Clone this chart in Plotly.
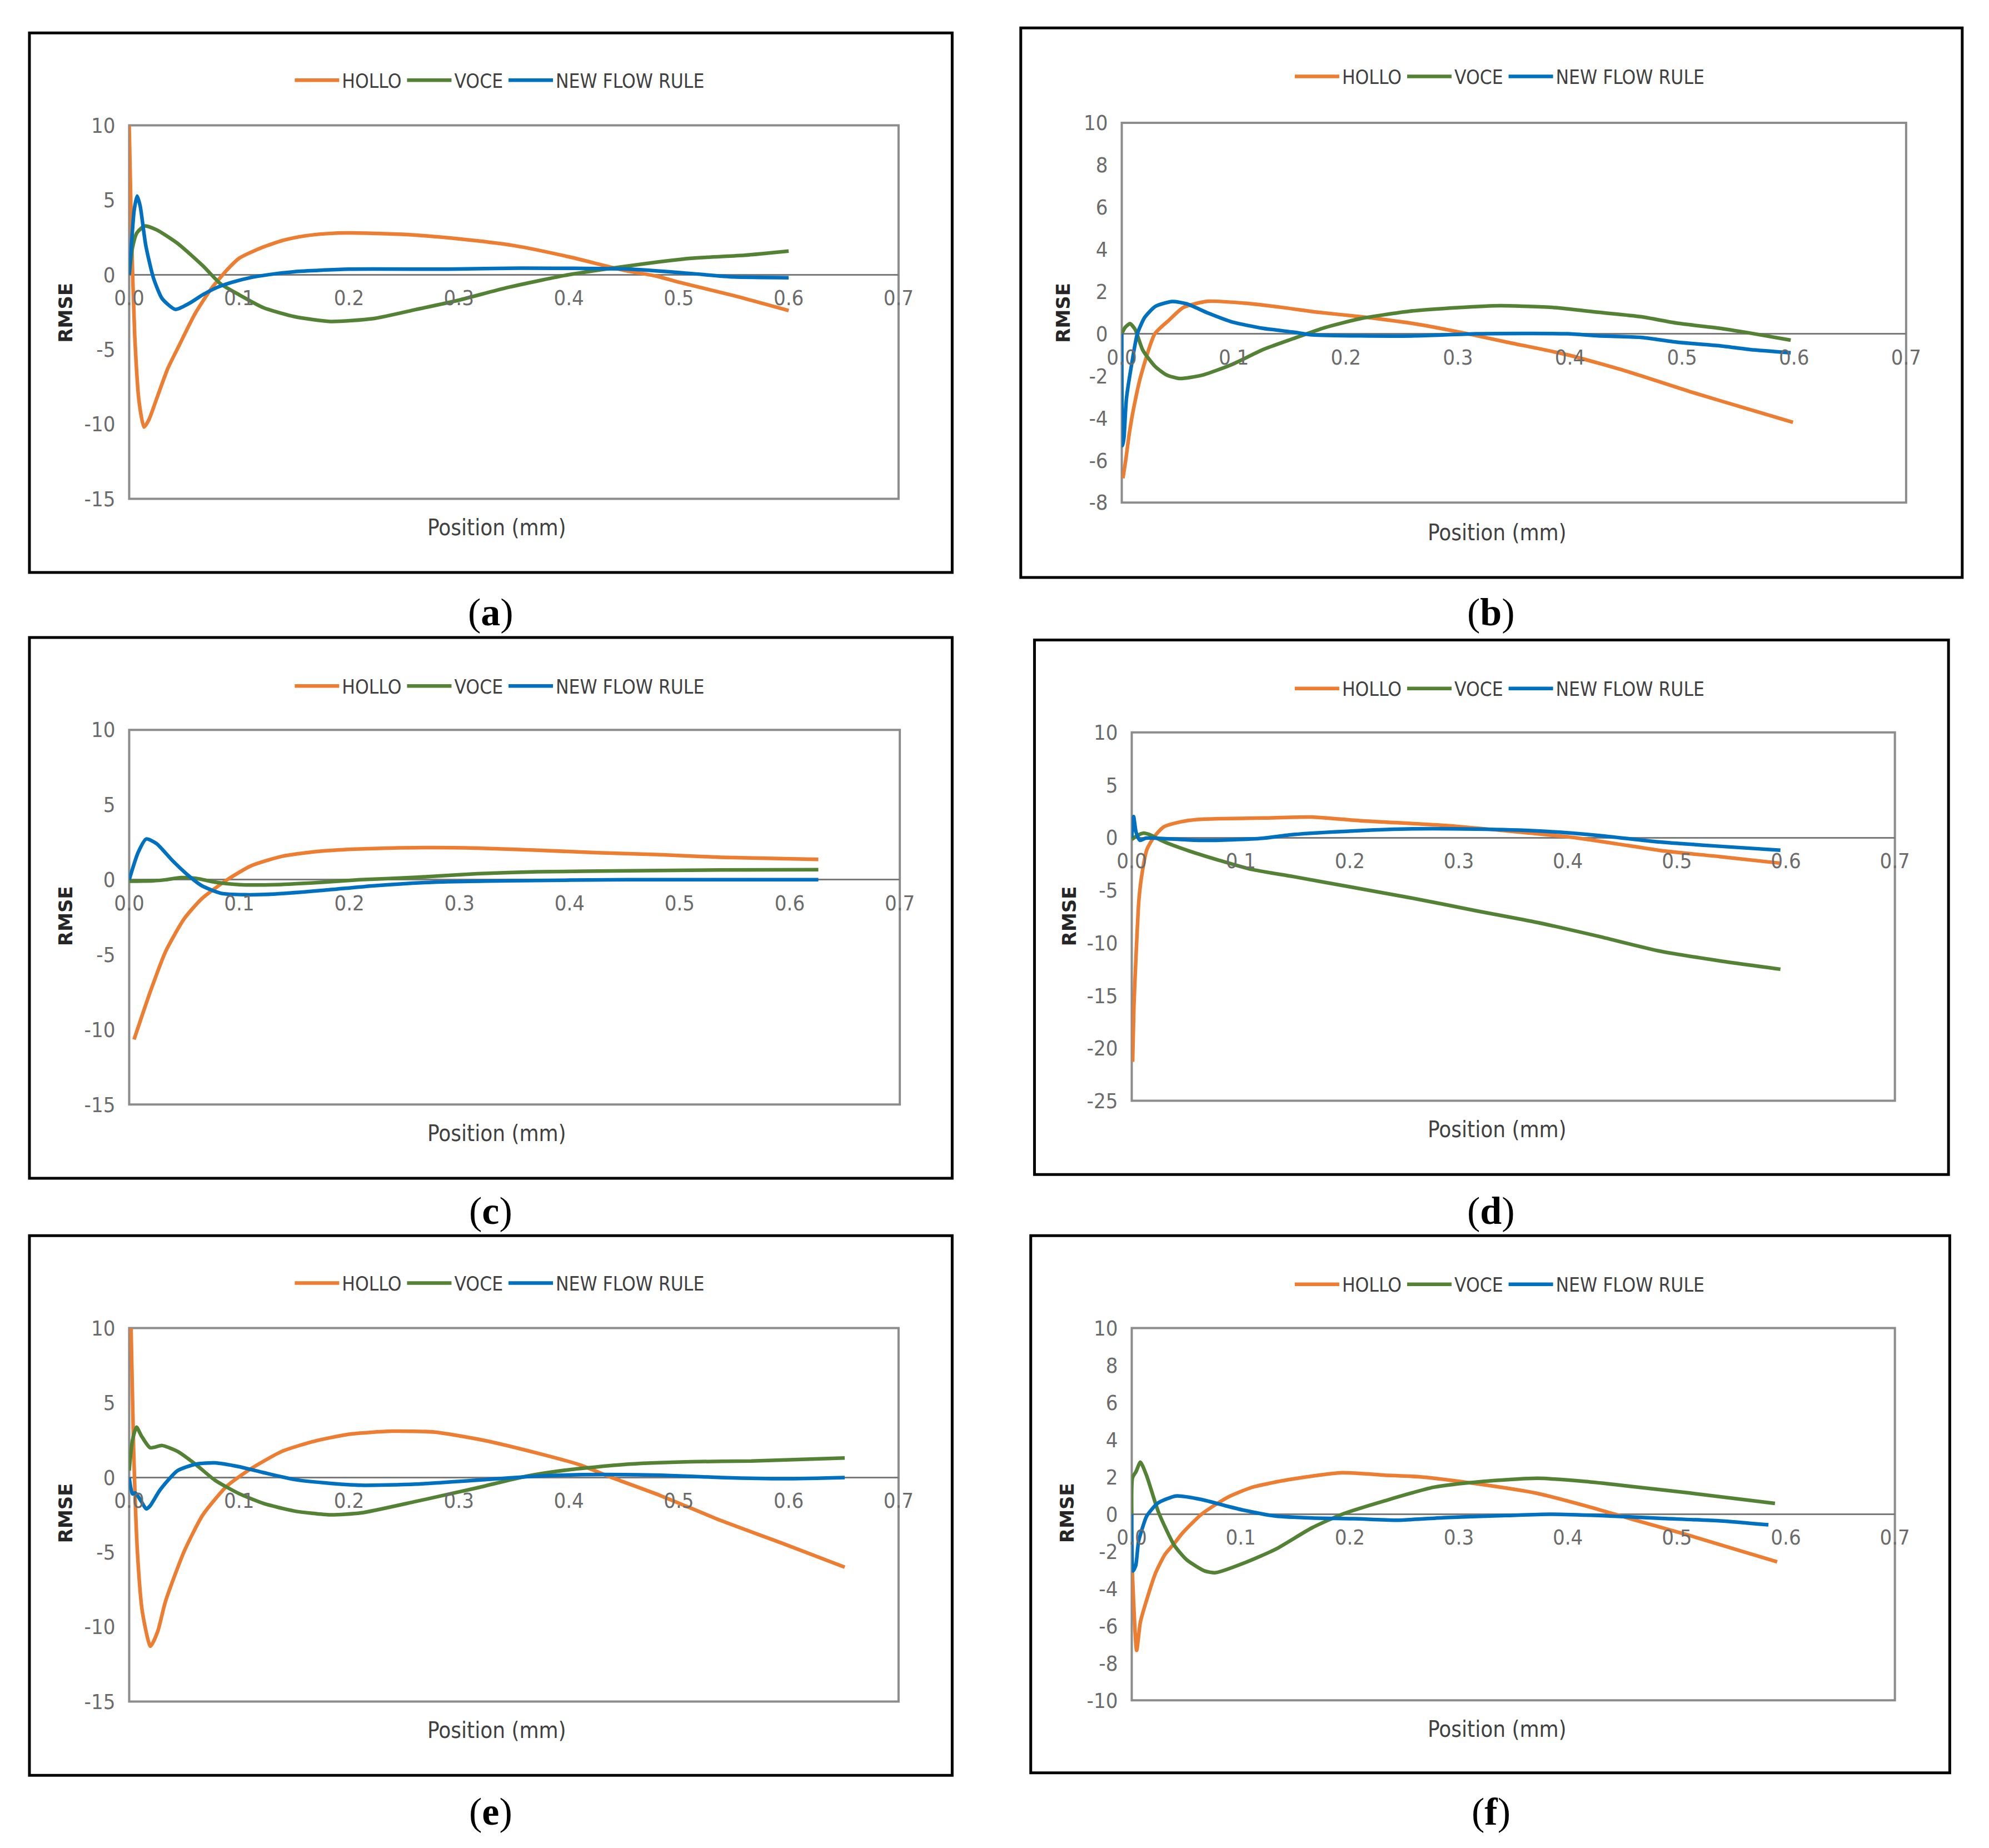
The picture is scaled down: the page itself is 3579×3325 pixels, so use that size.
import plotly.graph_objects as go

# ---------------- data ----------------
SERIES = ["HOLLO", "VOCE", "NEW FLOW RULE"]
COLORS = ["#ED7D31", "#548235", "#0070C0"]
X_TICKS = [0.0, 0.1, 0.2, 0.3, 0.4, 0.5, 0.6, 0.7]
X_TICK_TEXT = ["0.0", "0.1", "0.2", "0.3", "0.4", "0.5", "0.6", "0.7"]
PANEL_LABELS = ["a", "b", "c", "d", "e", "f"]

# (a)
a_x_hollo = [0.0, 0.002, 0.005, 0.009, 0.0135, 0.018, 0.025, 0.035, 0.045, 0.06, 0.075, 0.09, 0.1, 0.12, 0.14, 0.16, 0.18, 0.2, 0.25, 0.3, 0.35, 0.4, 0.45, 0.48, 0.5, 0.55, 0.6]
a_hollo = [10.0, 3.0, -4.0, -8.5, -10.2, -9.7, -8.3, -6.3, -4.8, -2.6, -0.9, 0.4, 1.1, 1.8, 2.3, 2.6, 2.75, 2.8, 2.7, 2.4, 1.95, 1.2, 0.3, -0.1, -0.5, -1.4, -2.4]
a_x_voce = [0.0, 0.003, 0.007, 0.014, 0.025, 0.044, 0.067, 0.083, 0.1, 0.122, 0.15, 0.183, 0.222, 0.261, 0.3, 0.344, 0.4, 0.455, 0.511, 0.56, 0.6]
a_voce = [0.0, 1.8, 2.8, 3.26, 3.0, 2.1, 0.6, -0.6, -1.34, -2.2, -2.8, -3.13, -2.94, -2.33, -1.7, -0.86, 0.0, 0.6, 1.1, 1.3, 1.58]
a_x_nfr = [0.0, 0.002, 0.0045, 0.0072, 0.01, 0.015, 0.022, 0.03, 0.042, 0.055, 0.067, 0.08, 0.094, 0.11, 0.122, 0.15, 0.2, 0.29, 0.355, 0.455, 0.511, 0.55, 0.6]
a_nfr = [0.0, 2.0, 4.3, 5.27, 4.6, 2.0, -0.2, -1.6, -2.32, -1.9, -1.34, -0.85, -0.5, -0.2, -0.05, 0.2, 0.37, 0.37, 0.44, 0.37, 0.08, -0.15, -0.2]
a_yticks = [-15, -10, -5, 0, 5, 10]
a_ytext = ["-15", "-10", "-5", "0", "5", "10"]

# (b)
b_x_hollo = [0.001, 0.0035, 0.0065, 0.01, 0.017, 0.0295, 0.042, 0.055, 0.077, 0.11, 0.143, 0.175, 0.213, 0.262, 0.306, 0.344, 0.398, 0.452, 0.507, 0.561, 0.599]
b_hollo = [-6.85, -6.0, -4.8, -3.7, -2.0, 0.0, 0.64, 1.25, 1.54, 1.45, 1.25, 1.02, 0.81, 0.47, 0.03, -0.4, -1.0, -1.8, -2.74, -3.6, -4.2]
b_x_voce = [0.0, 0.003, 0.0074, 0.012, 0.0188, 0.03, 0.04, 0.0515, 0.072, 0.099, 0.126, 0.153, 0.181, 0.213, 0.257, 0.3, 0.338, 0.387, 0.425, 0.463, 0.496, 0.534, 0.561, 0.597]
b_voce = [0.0, 0.3, 0.48, 0.2, -0.78, -1.56, -1.95, -2.12, -1.96, -1.44, -0.75, -0.23, 0.29, 0.72, 1.07, 1.24, 1.33, 1.24, 1.02, 0.81, 0.5, 0.26, 0.03, -0.3]
b_x_nfr = [0.0, 0.0008, 0.002, 0.0041, 0.009, 0.0139, 0.0205, 0.03, 0.045, 0.058, 0.077, 0.099, 0.126, 0.153, 0.17, 0.213, 0.262, 0.317, 0.398, 0.425, 0.463, 0.496, 0.534, 0.561, 0.597]
b_nfr = [0.0, -5.3, -4.9, -3.1, -1.39, 0.0, 0.78, 1.3, 1.53, 1.42, 0.98, 0.55, 0.26, 0.08, -0.05, -0.1, -0.1, 0.0, 0.0, -0.1, -0.17, -0.4, -0.57, -0.75, -0.9]
b_yticks = [-8, -6, -4, -2, 0, 2, 4, 6, 8, 10]
b_ytext = ["-8", "-6", "-4", "-2", "0", "2", "4", "6", "8", "10"]

# (c)
c_x_hollo = [0.0044, 0.012, 0.019, 0.033, 0.05, 0.066, 0.089, 0.111, 0.138, 0.166, 0.205, 0.26, 0.316, 0.371, 0.426, 0.482, 0.537, 0.626]
c_hollo = [-10.66, -9.0, -7.5, -4.8, -2.6, -1.26, 0.0, 0.94, 1.55, 1.85, 2.04, 2.14, 2.11, 1.97, 1.8, 1.67, 1.5, 1.36]
c_x_voce = [0.0, 0.022, 0.033, 0.047, 0.061, 0.078, 0.1, 0.133, 0.177, 0.21, 0.26, 0.316, 0.371, 0.454, 0.537, 0.626]
c_voce = [-0.1, -0.07, 0.0, 0.14, 0.09, -0.16, -0.33, -0.33, -0.16, 0.0, 0.16, 0.4, 0.53, 0.6, 0.65, 0.67]
c_x_nfr = [0.0, 0.008, 0.0155, 0.025, 0.039, 0.053, 0.066, 0.083, 0.105, 0.133, 0.177, 0.222, 0.277, 0.343, 0.454, 0.626]
c_nfr = [0.0, 1.8, 2.72, 2.4, 1.3, 0.33, -0.4, -0.9, -1.0, -0.95, -0.7, -0.4, -0.16, -0.07, 0.0, 0.0]
c_yticks = [-15, -10, -5, 0, 5, 10]
c_ytext = ["-15", "-10", "-5", "0", "5", "10"]

# (d)
d_x_hollo = [0.0008, 0.002, 0.0042, 0.0065, 0.009, 0.014, 0.02, 0.029, 0.045, 0.06, 0.08, 0.12, 0.165, 0.21, 0.288, 0.344, 0.4, 0.455, 0.489, 0.539, 0.595]
d_hollo = [-21.3, -16.0, -10.6, -6.0, -3.7, -1.1, 0.0, 1.0, 1.5, 1.72, 1.8, 1.86, 1.96, 1.6, 1.16, 0.64, 0.08, -0.75, -1.28, -1.8, -2.43]
d_x_voce = [0.0, 0.005, 0.011, 0.016, 0.03, 0.053, 0.08, 0.109, 0.148, 0.204, 0.26, 0.316, 0.372, 0.427, 0.483, 0.539, 0.595]
d_voce = [-0.17, 0.2, 0.43, 0.3, -0.4, -1.28, -2.15, -3.0, -3.7, -4.75, -5.8, -6.95, -8.06, -9.35, -10.75, -11.7, -12.5]
d_x_nfr = [0.0, 0.0017, 0.004, 0.0075, 0.013, 0.036, 0.064, 0.092, 0.12, 0.148, 0.204, 0.26, 0.316, 0.372, 0.427, 0.483, 0.539, 0.595]
d_nfr = [0.0, 2.0, 0.5, -0.26, -0.05, -0.13, -0.26, -0.2, -0.06, 0.29, 0.64, 0.84, 0.81, 0.64, 0.22, -0.4, -0.82, -1.2]
d_yticks = [-25, -20, -15, -10, -5, 0, 5, 10]
d_ytext = ["-25", "-20", "-15", "-10", "-5", "0", "5", "10"]

# (e)
e_x_hollo = [0.0017, 0.004, 0.0075, 0.012, 0.0194, 0.026, 0.033, 0.05, 0.067, 0.089, 0.111, 0.139, 0.167, 0.2, 0.239, 0.278, 0.322, 0.372, 0.41, 0.439, 0.483, 0.539, 0.594, 0.651]
e_hollo = [10.0, 2.0, -5.0, -9.0, -11.3, -10.3, -8.3, -4.95, -2.5, -0.57, 0.6, 1.75, 2.4, 2.9, 3.1, 3.04, 2.5, 1.62, 0.85, 0.0, -1.2, -2.9, -4.4, -6.0]
e_x_voce = [0.0, 0.003, 0.0067, 0.011, 0.019, 0.03, 0.044, 0.061, 0.078, 0.1, 0.122, 0.15, 0.183, 0.211, 0.261, 0.316, 0.361, 0.4, 0.455, 0.511, 0.566, 0.651]
e_voce = [0.46, 2.5, 3.37, 2.8, 2.0, 2.14, 1.75, 0.85, -0.18, -1.08, -1.73, -2.24, -2.5, -2.37, -1.6, -0.7, 0.08, 0.52, 0.9, 1.06, 1.1, 1.31]
e_x_nfr = [0.0, 0.003, 0.0056, 0.011, 0.0155, 0.019, 0.028, 0.044, 0.061, 0.078, 0.1, 0.122, 0.15, 0.178, 0.211, 0.261, 0.316, 0.372, 0.428, 0.483, 0.539, 0.594, 0.651]
e_nfr = [0.0, -1.1, -1.03, -1.6, -2.1, -1.9, -0.84, 0.46, 0.9, 0.98, 0.72, 0.33, -0.13, -0.36, -0.52, -0.44, -0.18, 0.1, 0.2, 0.15, 0.0, -0.08, 0.0]
e_yticks = [-15, -10, -5, 0, 5, 10]
e_ytext = ["-15", "-10", "-5", "0", "5", "10"]

# (f)
f_x_hollo = [0.0005, 0.0045, 0.0079, 0.0137, 0.022, 0.0305, 0.039, 0.047, 0.064, 0.087, 0.11, 0.143, 0.193, 0.232, 0.266, 0.316, 0.372, 0.428, 0.456, 0.512, 0.592]
f_hollo = [-3.05, -7.32, -5.8, -4.6, -3.14, -2.16, -1.57, -0.98, 0.0, 0.88, 1.44, 1.85, 2.23, 2.1, 2.0, 1.64, 1.12, 0.26, -0.22, -1.15, -2.56]
f_x_voce = [0.0, 0.0007, 0.004, 0.0079, 0.0137, 0.0246, 0.039, 0.0506, 0.067, 0.077, 0.104, 0.132, 0.165, 0.193, 0.232, 0.277, 0.322, 0.372, 0.416, 0.456, 0.512, 0.59]
f_voce = [0.0, 1.96, 2.3, 2.8, 2.06, 0.1, -1.67, -2.46, -3.05, -3.14, -2.6, -1.88, -0.74, 0.0, 0.72, 1.45, 1.76, 1.93, 1.76, 1.51, 1.14, 0.58]
f_x_nfr = [0.0, 0.0012, 0.0037, 0.0062, 0.0095, 0.0137, 0.0238, 0.0405, 0.064, 0.087, 0.104, 0.132, 0.165, 0.204, 0.243, 0.288, 0.344, 0.383, 0.428, 0.484, 0.54, 0.584]
f_nfr = [0.0, -3.05, -2.75, -1.47, -0.79, -0.1, 0.59, 0.98, 0.79, 0.44, 0.2, -0.1, -0.2, -0.24, -0.32, -0.18, -0.07, 0.0, -0.07, -0.22, -0.36, -0.57]
f_yticks = [-10, -8, -6, -4, -2, 0, 2, 4, 6, 8, 10]
f_ytext = ["-10", "-8", "-6", "-4", "-2", "0", "2", "4", "6", "8", "10"]

DATA = {
    "a": ([a_x_hollo, a_x_voce, a_x_nfr], [a_hollo, a_voce, a_nfr], a_yticks, a_ytext),
    "b": ([b_x_hollo, b_x_voce, b_x_nfr], [b_hollo, b_voce, b_nfr], b_yticks, b_ytext),
    "c": ([c_x_hollo, c_x_voce, c_x_nfr], [c_hollo, c_voce, c_nfr], c_yticks, c_ytext),
    "d": ([d_x_hollo, d_x_voce, d_x_nfr], [d_hollo, d_voce, d_nfr], d_yticks, d_ytext),
    "e": ([e_x_hollo, e_x_voce, e_x_nfr], [e_hollo, e_voce, e_nfr], e_yticks, e_ytext),
    "f": ([f_x_hollo, f_x_voce, f_x_nfr], [f_hollo, f_voce, f_nfr], f_yticks, f_ytext),
}

# ---------------- layout geometry (paper fractions) ----------------
W, H = 3579, 3325
DW, DH = 1571.0, 1460.0  # reference measured in this frame


def px(x):
    return x / DW


def py(y):
    return 1 - y / DH


GEOM = {
    # plot area (l, r, top, bottom), outer box (l, r, top, bottom), legend (x, y),
    # x title (x, y), y title (x, y), label (x, y)
    "a": ((88, 705, 87, 386), (8, 748, 13, 445), (385, 51), (383, 409), (37, 237), (378, 477)),
    "b": ((884, 1513, 85, 389), (803, 1558, 9, 449), (1187, 48), (1185, 413), (837, 237), (1180, 477)),
    "c": ((88, 706, 571, 871), (8, 748, 497, 930), (385, 536), (383, 894), (37, 720), (378, 956)),
    "d": ((892, 1504, 573, 868), (814, 1547, 499, 927), (1187, 538), (1185, 891), (842, 720), (1180, 956)),
    "e": ((88, 705, 1050, 1349), (8, 748, 976, 1408), (385, 1014), (383, 1372), (37, 1198), (378, 1437)),
    "f": ((892, 1504, 1050, 1348), (811, 1548, 976, 1406), (1187, 1015), (1185, 1371), (840, 1198), (1180, 1437)),
}

NARROW = "DejaVu Sans Condensed, Liberation Sans Narrow, Roboto, sans-serif"
TICK_FONT = dict(family=NARROW, size=38, color="#6b6b6b")
FRAME_COLOR = "#8c8c8c"

fig = go.Figure()
layout = dict(
    width=W, height=H,
    margin=dict(l=0, r=0, t=0, b=0),
    paper_bgcolor="white", plot_bgcolor="white",
    shapes=[], annotations=[],
)

for i, key in enumerate(PANEL_LABELS, start=1):
    xs_list, ys_list, yticks, ytext = DATA[key]
    (pl, pr, pt, pb), (ol, orr, ot, ob), (lx, ly), (tx, ty), (rx, ry), (qx, qy) = GEOM[key]
    sfx = "" if i == 1 else str(i)
    xname, yname = "x" + sfx, "y" + sfx
    legname = "legend" + sfx
    ymin, ymax = yticks[0], yticks[-1]

    for s, (xs, ys) in enumerate(zip(xs_list, ys_list)):
        fig.add_trace(go.Scatter(
            x=xs, y=ys, mode="lines", name=SERIES[s],
            line=dict(color=COLORS[s], width=6.5, shape="spline", smoothing=0.6),
            xaxis=xname, yaxis=yname, legend=legname, showlegend=True,
        ))

    ydom = [py(pb), py(pt)]
    xdom = [px(pl), px(pr)]
    zero_pos = ydom[0] + (0 - ymin) / (ymax - ymin) * (ydom[1] - ydom[0])

    layout["xaxis" + sfx] = dict(
        domain=xdom, range=[X_TICKS[0], X_TICKS[-1]], anchor="free", position=zero_pos,
        tickmode="array", tickvals=X_TICKS, ticktext=X_TICK_TEXT,
        showgrid=False, zeroline=False, showline=False, ticks="",
        tickfont=TICK_FONT, ticklabelstandoff=16,
    )
    layout["yaxis" + sfx] = dict(
        domain=ydom, range=[ymin, ymax], anchor=xname,
        tickmode="array", tickvals=yticks, ticktext=ytext,
        showgrid=False, zeroline=True, zerolinecolor="#7a7a7a", zerolinewidth=3,
        showline=False, ticks="", tickfont=TICK_FONT, ticklabelstandoff=24,
    )
    layout[legname] = dict(
        orientation="h", x=px(lx), y=py(ly), xanchor="center", yanchor="middle",
        font=dict(family=NARROW, size=35, color="#404040"),
        bgcolor="rgba(0,0,0,0)", itemwidth=80, tracegroupgap=0,
    )
    xref_dom = ("x" if i == 1 else "x" + sfx) + " domain"
    yref_dom = ("y" if i == 1 else "y" + sfx) + " domain"
    layout["shapes"].append(dict(
        type="rect", xref=xref_dom, yref=yref_dom, x0=0, x1=1, y0=0, y1=1,
        line=dict(color=FRAME_COLOR, width=4), fillcolor="rgba(0,0,0,0)", layer="below",
    ))
    layout["shapes"].append(dict(
        type="rect", xref="paper", yref="paper", x0=px(ol), x1=px(orr), y0=py(ob), y1=py(ot),
        line=dict(color="black", width=5), fillcolor="rgba(0,0,0,0)", layer="above",
    ))
    layout["annotations"].append(dict(
        text="Position (mm)", xref="paper", yref="paper", x=px(tx), y=py(ty),
        xanchor="center", yanchor="middle", showarrow=False,
        font=dict(family=NARROW, size=40, color="#404040"),
    ))
    layout["annotations"].append(dict(
        text="<b>RMSE</b>", xref="paper", yref="paper", x=px(rx), y=py(ry),
        xanchor="center", yanchor="middle", showarrow=False, textangle=-90,
        font=dict(family="DejaVu Sans, Verdana, sans-serif", size=34, color="#262626"),
    ))
    layout["annotations"].append(dict(
        text="(<b>%s</b>)" % key, xref="paper", yref="paper", x=px(qx), y=py(qy),
        xanchor="center", yanchor="middle", showarrow=False,
        font=dict(family="Liberation Serif, Times New Roman, serif", size=70, color="black"),
    ))

fig.update_layout(**layout)
fig.write_html("out.html")
